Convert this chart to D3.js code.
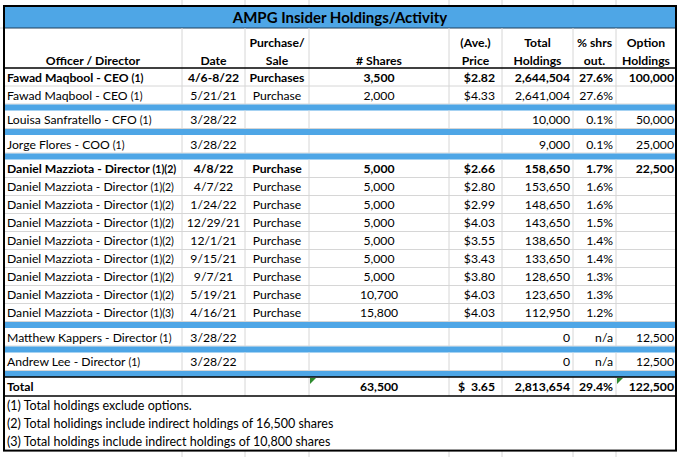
<!DOCTYPE html>
<html>
<head>
<meta charset="utf-8">
<script src="https://cdn.jsdelivr.net/npm/d3@7"></script>
<style>
  html, body { margin: 0; padding: 0; background: #fff; }
  svg { display: block; }
  text { font-family: Lato, "Open Sans", sans-serif; fill: #000; }
</style>
</head>
<body>
<svg id="chart" width="680" height="457"></svg>
<script>
// ---------- DATA ----------
const title = "AMPG Insider Holdings/Activity";
const headerLine1 = ["", "", "Purchase/", "", "(Ave.)", "Total", "% shrs", "Option"];
const headerLine2 = ["Officer / Director", "Date", "Sale", "# Shares", "Price", "Holdings", "out.", "Holdings"];

const officers = ["Fawad Maqbool - CEO", "Fawad Maqbool - CEO", "Louisa Sanfratello - CFO", "Jorge Flores - COO",
  "Daniel Mazziota - Director", "Daniel Mazziota - Director", "Daniel Mazziota - Director", "Daniel Mazziota - Director",
  "Daniel Mazziota - Director", "Daniel Mazziota - Director", "Daniel Mazziota - Director", "Daniel Mazziota - Director",
  "Daniel Mazziota - Director", "Matthew Kappers - Director", "Andrew Lee - Director"];
const footRefs = ["(1)", "(1)", "(1)", "(1)", "(1)(2)", "(1)(2)", "(1)(2)", "(1)(2)", "(1)(2)", "(1)(2)", "(1)(2)", "(1)(2)", "(1)(3)", "(1)", "(1)"];
const dates = ["4/6-8/22", "5/21/21", "3/28/22", "3/28/22", "4/8/22", "4/7/22", "1/24/22", "12/29/21", "12/1/21", "9/15/21", "9/7/21", "5/19/21", "4/16/21", "3/28/22", "3/28/22"];
const actions = ["Purchases", "Purchase", "", "", "Purchase", "Purchase", "Purchase", "Purchase", "Purchase", "Purchase", "Purchase", "Purchase", "Purchase", "", ""];
const shares = [3500, 2000, null, null, 5000, 5000, 5000, 5000, 5000, 5000, 5000, 10700, 15800, null, null];
const prices = [2.82, 4.33, null, null, 2.66, 2.80, 2.99, 4.03, 3.55, 3.43, 3.80, 4.03, 4.03, null, null];
const holdings = [2644504, 2641004, 10000, 9000, 158650, 153650, 148650, 143650, 138650, 133650, 128650, 123650, 112950, 0, 0];
const pctOut = [27.6, 27.6, 0.1, 0.1, 1.7, 1.6, 1.6, 1.5, 1.4, 1.4, 1.3, 1.3, 1.2, null, null];
const options = [100000, null, 50000, 25000, 22500, null, null, null, null, null, null, null, null, 12500, 12500];
const groups = [0, 0, 1, 2, 3, 3, 3, 3, 3, 3, 3, 3, 3, 4, 5];
const boldRows = [true, false, false, false, true, false, false, false, false, false, false, false, false, false, false];

const totalLabel = "Total";
const totalShares = 63500;
const totalPrice = 3.65;
const totalHoldings = 2813654;
const totalPct = 29.4;
const totalOptions = 122500;

const notes = ["(1) Total holdings exclude options.",
  "(2) Total holidings include indirect holdings of 16,500 shares",
  "(3) Total holdings include indirect holdings of 10,800 shares"];

// ---------- LAYOUT ----------
const svg = d3.select("#chart");
const colKeys = ["officer", "date", "action", "shares", "price", "holdings", "pct", "options"];
const colWidths = [178, 63, 64, 140, 53, 71, 43, 60];
const left = 4;
const colEdges = [left];
colWidths.forEach(w => colEdges.push(colEdges[colEdges.length - 1] + w));
const right = colEdges[colEdges.length - 1];
const colX = d3.scaleOrdinal().domain(colKeys).range(colEdges.slice(0, -1));
const colW = d3.scaleOrdinal().domain(colKeys).range(colWidths);
const align = { officer: "start", date: "middle", action: "middle", shares: "middle", price: "end", holdings: "end", pct: "end", options: "end" };
const pad = { officer: 3, price: 7, holdings: 3, pct: 3, options: 2 };

function textX(k) {
  const a = align[k];
  if (a === "start") return colX(k) + pad[k];
  if (a === "middle") return colX(k) + colW(k) / 2;
  return colX(k) + colW(k) - pad[k];
}

const FS = 12.2, FS_REF = 10.5, FS_NOTE = 12.5;
const topY = 6, titleH = 22, headerH = 40, rowH = 18, sepH = 6.5, noteH = 18.2;
const blue = "#4ea6e6", grid = "#d6d6d6";

// Build row sequence with separators
const seq = [];
let y = topY + titleH + headerH;
officers.forEach((o, i) => {
  if (i > 0 && groups[i] !== groups[i - 1]) { seq.push({ type: "sep", y: y }); y += sepH; }
  seq.push({ type: "row", i: i, y: y }); y += rowH;
});
seq.push({ type: "sep", y: y }); y += sepH;
const totalY = y; y += rowH + 1;
const notesY = y;
const bottomY = notesY + noteH * notes.length;

const fmtInt = d3.format(",");
const fmtPrice = d3.format("$.2f");
const fmtPct = v => d3.format(".1f")(v) + "%";

// Outside spreadsheet gridlines
const outer = svg.append("g");
colEdges.slice(1, -1).forEach(x => {
  outer.append("line").attr("x1", x).attr("x2", x).attr("y1", 0).attr("y2", topY).attr("stroke", grid);
  outer.append("line").attr("x1", x).attr("x2", x).attr("y1", bottomY).attr("y2", 457).attr("stroke", grid);
});
outer.append("line").attr("x1", 0).attr("x2", left).attr("y1", topY + titleH).attr("y2", topY + titleH).attr("stroke", grid);

// Title bar
svg.append("rect").attr("x", left).attr("y", topY).attr("width", right - left).attr("height", titleH).attr("fill", blue);
svg.append("text").attr("x", (left + right) / 2).attr("y", topY + 16.5).attr("text-anchor", "middle")
  .attr("font-weight", "bold").attr("font-size", 15).text(title);
svg.append("line").attr("x1", left).attr("x2", right).attr("y1", topY + titleH).attr("y2", topY + titleH)
  .attr("stroke", "#1f3f5a").attr("stroke-width", 1);

// Header
const hy = topY + titleH;
colEdges.slice(1, -1).forEach(x => {
  svg.append("line").attr("x1", x).attr("x2", x).attr("y1", hy).attr("y2", hy + headerH).attr("stroke", grid);
});
colKeys.forEach((k, j) => {
  const cx = colX(k) + colW(k) / 2;
  svg.append("text").attr("x", cx).attr("y", hy + 18.5).attr("text-anchor", "middle")
    .attr("font-weight", "bold").attr("font-size", FS).text(headerLine1[j]);
  svg.append("text").attr("x", cx).attr("y", hy + 36.5).attr("text-anchor", "middle")
    .attr("font-weight", "bold").attr("font-size", FS).text(headerLine2[j]);
});

// Rows
function cell(g, k, y0, txt, bold) {
  if (txt === null || txt === "") return;
  g.append("text").attr("x", textX(k)).attr("y", y0 + 13.5).attr("text-anchor", align[k])
    .attr("font-weight", bold ? "bold" : "normal").attr("font-size", FS).text(txt);
}

const body = svg.append("g");
seq.forEach(s => {
  if (s.type === "sep") {
    body.append("rect").attr("x", left).attr("y", s.y + 0.5).attr("width", right - left).attr("height", sepH - 0.5).attr("fill", blue);
    return;
  }
  const i = s.i, b = boldRows[i];
  const g = body.append("g");
  colEdges.slice(1, -1).forEach(x => {
    g.append("line").attr("x1", x).attr("x2", x).attr("y1", s.y).attr("y2", s.y + rowH).attr("stroke", grid);
  });
  g.append("line").attr("x1", left).attr("x2", right).attr("y1", s.y + rowH).attr("y2", s.y + rowH).attr("stroke", grid);
  const t = g.append("text").attr("x", textX("officer")).attr("y", s.y + 13.5)
    .attr("font-weight", b ? "bold" : "normal").attr("font-size", FS);
  t.append("tspan").text(officers[i] + " ");
  t.append("tspan").attr("font-size", FS_REF).text(footRefs[i]);
  cell(g, "date", s.y, dates[i], b);
  cell(g, "action", s.y, actions[i], b);
  cell(g, "shares", s.y, shares[i] === null ? null : fmtInt(shares[i]), b);
  cell(g, "price", s.y, prices[i] === null ? null : fmtPrice(prices[i]), b);
  cell(g, "holdings", s.y, fmtInt(holdings[i]), b);
  cell(g, "pct", s.y, pctOut[i] === null ? "n/a" : fmtPct(pctOut[i]), b);
  cell(g, "options", s.y, options[i] === null ? null : fmtInt(options[i]), b);
});

// Header bottom line
svg.append("line").attr("x1", left).attr("x2", right).attr("y1", hy + headerH).attr("y2", hy + headerH)
  .attr("stroke", "#000").attr("stroke-width", 1.3);

// Total row
const tg = svg.append("g");
colEdges.slice(1, -1).forEach(x => {
  tg.append("line").attr("x1", x).attr("x2", x).attr("y1", totalY).attr("y2", totalY + rowH + 1).attr("stroke", grid);
});
cell(tg, "officer", totalY + 0.5, totalLabel, true);
cell(tg, "shares", totalY + 0.5, fmtInt(totalShares), true);
tg.append("text").attr("x", colX("price") + 9).attr("y", totalY + 14).attr("font-weight", "bold").attr("font-size", FS).text("$");
cell(tg, "price", totalY + 0.5, d3.format(".2f")(totalPrice), true);
cell(tg, "holdings", totalY + 0.5, fmtInt(totalHoldings), true);
cell(tg, "pct", totalY + 0.5, fmtPct(totalPct), true);
cell(tg, "options", totalY + 0.5, fmtInt(totalOptions), true);
[colX("shares"), colX("options")].forEach(x => {
  tg.append("path").attr("d", `M${x + 1},${totalY + 1} h6 l-6,6 z`).attr("fill", "#2e8b2e");
});
tg.append("line").attr("x1", left).attr("x2", right).attr("y1", totalY).attr("y2", totalY).attr("stroke", "#000").attr("stroke-width", 1.3);
tg.append("line").attr("x1", left).attr("x2", right).attr("y1", notesY).attr("y2", notesY).attr("stroke", "#000").attr("stroke-width", 1.3);

// Notes
notes.forEach((n, j) => {
  svg.append("text").attr("x", left + 3).attr("y", notesY + j * noteH + 14).attr("font-size", FS_NOTE).text(n);
});

// Outer border
svg.append("rect").attr("x", left).attr("y", topY).attr("width", right - left).attr("height", bottomY - topY)
  .attr("fill", "none").attr("stroke", "#000").attr("stroke-width", 2);
</script>
</body>
</html>
